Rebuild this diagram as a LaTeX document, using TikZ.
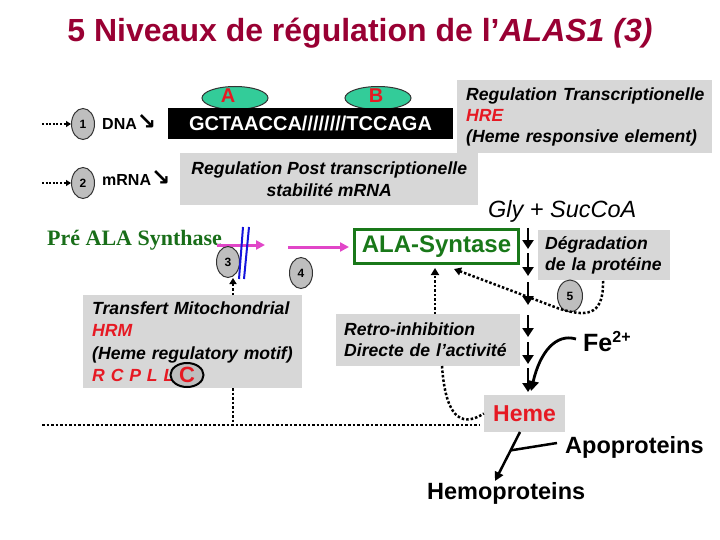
\documentclass[tikz,border=0pt]{standalone}
\usepackage{fontspec}
\setmainfont{Liberation Sans}
\newfontfamily\timesf{Liberation Serif}
\newfontfamily\djv{DejaVu Sans}
\usetikzlibrary{shapes.geometric,arrows.meta,calc}
\definecolor{boxgray}{RGB}{215,215,215}
\definecolor{circgray}{RGB}{190,190,190}
\definecolor{hrered}{RGB}{230,25,35}
\definecolor{titlered}{RGB}{153,0,51}
\definecolor{mint}{RGB}{51,204,153}
\definecolor{alagreen}{RGB}{25,120,25}
\definecolor{pregreen}{RGB}{25,110,25}
\definecolor{magline}{RGB}{225,70,200}
\definecolor{blueline}{RGB}{20,20,220}
\tikzset{
  graybox/.style={fill=boxgray, inner ysep=0pt, align=left, anchor=north west,
    font=\bfseries\itshape\fontsize{17.6}{21}\selectfont},
  circ/.style={ellipse, draw=black!80, line width=1pt, fill=circgray,
    minimum width=23pt, minimum height=31pt, inner sep=0pt,
    font=\bfseries\fontsize{12}{12}\selectfont},
  ovalAB/.style={ellipse, draw=black!80, line width=1pt, fill=mint,
    minimum width=66pt, minimum height=23pt, inner sep=0pt},
  letterAB/.style={text=hrered, font=\bfseries\fontsize{20}{20}\selectfont, inner sep=0pt},
  lbl/.style={font=\bfseries\fontsize{16}{16}\selectfont, inner sep=0pt},
  big/.style={font=\bfseries\fontsize{23.5}{23.5}\selectfont, inner sep=0pt},
  dots/.style={line width=2.5pt, dash pattern=on 2.5pt off 2pt},
  dotsm/.style={line width=2pt, dash pattern=on 2pt off 1.6pt},
  dtip/.style={-{Triangle[length=7pt,width=8pt]}},
  blk/.style={line width=2.8pt, -{Triangle[length=9pt,width=11pt]}},
  mag/.style={line width=3pt, draw=magline, -{Triangle[length=9pt,width=9pt]}},
  blu/.style={line width=2pt, draw=blueline},
}
\begin{document}
\begin{tikzpicture}[x=1pt,y=-1pt]
\useasboundingbox (0,0) rectangle (720,540);

% title
\node[font=\bfseries\fontsize{32}{32}\selectfont, text=titlered] (title) at (360,33)
  {5 Niveaux de régulation de l’\textit{ALAS1 (3)}};

% level 1 and 2
\node[ovalAB] (ea) at (235,98) {};
\node[ovalAB] (eb) at (378,98) {};
\node[letterAB] (la) at (228,96) {A};
\node[letterAB] (lb) at (376,96) {B};
\node[fill=black, text=white, font=\bfseries\fontsize{20}{20}\selectfont,
  minimum width=285pt, minimum height=31pt, inner sep=0pt] (seq) at (310.5,123.5)
  {GCTAACCA////////TCCAGA};

\node[circ] (c1) at (83,124) {1};
\node[circ] (c2) at (83,183) {2};
\node[lbl, anchor=west] (dna) at (102,122) {DNA{\djv\bfseries\fontsize{23}{23}\selectfont ↘}};
\node[lbl, anchor=west] (mrna) at (102,178) {mRNA{\djv\bfseries\fontsize{23}{23}\selectfont ↘}};
\coordinate (s1) at (42,124);
\coordinate (s2) at (42,183);
\draw[dotsm, -{Triangle[length=5pt,width=6pt]}] (s1) -- (c1.west);
\draw[dotsm, -{Triangle[length=5pt,width=6pt]}] (s2) -- (c2.west);

\node[graybox, minimum height=73pt, text width=237pt, inner xsep=9pt] (hre) at (457,80)
  {\mbox{Regulation Transcriptionelle}\\\textcolor{hrered}{HRE}\\\mbox{(Heme responsive element)}};
\node[graybox, align=center, minimum width=298pt, minimum height=52pt, inner xsep=0pt,
  font=\bfseries\itshape\fontsize{17.6}{22}\selectfont] (post) at (180,153)
  {Regulation Post transcriptionelle\\stabilité mRNA};

\node[anchor=base west, inner sep=0pt, font=\itshape\fontsize{23.5}{23.5}\selectfont] (gly) at (488,218)
  {Gly + SucCoA};

% level 3 and 4
\node[anchor=base west, inner sep=0pt, text=pregreen,
  font=\timesf\bfseries\fontsize{22}{22}\selectfont] (pre) at (47,245) {Pré ALA Synthase};

\node[draw=alagreen, line width=3pt, fill=white, minimum width=164pt, minimum height=34pt,
  inner sep=0pt, text=alagreen, font=\bfseries\fontsize{24}{24}\selectfont] (ala) at (436.5,246.5)
  {ALA-Syntase};

\coordinate (m1a) at (217,245);
\coordinate (m1b) at (265,245);
\coordinate (m2a) at (288,247);
\draw[mag] (m1a) -- (m1b);
\draw[mag, shorten >=4pt] (m2a) -- (m2a -| ala.west);

\node[circ] (c3) at (228,262) {3};
\node[circ] (c4) at (301,273) {4};
\coordinate (u1) at (243,227);
\coordinate (u2) at (239,279);
\coordinate (v1) at (249,227);
\coordinate (v2) at (244,279);
\draw[blu] (u1) -- (u2);
\draw[blu] (v1) -- (v2);

\node[graybox, minimum height=93pt, text width=201pt, inner xsep=9pt,
  font=\bfseries\itshape\fontsize{17.6}{22.5}\selectfont] (trans) at (83,295)
  {\mbox{Transfert Mitochondrial}\\\textcolor{hrered}{HRM}\\\mbox{(Heme regulatory motif)}\\\textcolor{hrered}{R C P L L}};
\node[ellipse, draw=black, line width=2pt, fill=circgray, minimum width=33pt, minimum height=24pt,
  inner sep=0pt, text=hrered, font=\bfseries\fontsize{22}{22}\selectfont] (cc) at (187,375) {C};

\coordinate (t3) at (233,295);
\coordinate (t4) at (233,388);
\coordinate (b1) at (233,425);
\coordinate (bl) at (42,425);
\coordinate (br) at (480,425);
\draw[dots, -{Triangle[length=6pt,width=7pt]}] (t3) -- (t3 |- c3.south);
\draw[dots] (t4) -- (b1);
\draw[dots] (bl) -- (br);

% level 5
\node[graybox, minimum height=50pt, text width=118pt, inner xsep=7pt] (degr) at (538,230)
  {\mbox{Dégradation}\\\mbox{de la protéine}};
\node[circ, minimum width=25pt, minimum height=32pt] (c5) at (570,296) {5};

\node[graybox, minimum height=52pt, text width=168pt, inner xsep=8pt] (retro) at (336,314)
  {\mbox{Retro-inhibition}\\\mbox{Directe de l’activité}};

\node[fill=boxgray, minimum width=81pt, minimum height=37pt, inner sep=0pt, text=hrered,
  font=\bfseries\fontsize{23}{23}\selectfont] (heme) at (524.5,413.5) {Heme};

\node[anchor=base west, inner sep=1pt, font=\bfseries\fontsize{25}{25}\selectfont] (fe) at (582,351)
  {Fe\raisebox{9pt}{\fontsize{16}{16}\selectfont 2+}};
\node[big, anchor=base west] (apo) at (565,453) {Apoproteins};
\node[big, anchor=base west] (hemo) at (427,499) {Hemoproteins};

% column of arrows
\foreach \i/\a/\b in {1/228/249, 2/253/276, 3/282/305, 4/315/337, 5/342/364, 6/368/392} {
  \coordinate (ka\i) at (528,\a);
  \coordinate (kb\i) at (528,\b);
  \draw[blk] (ka\i) -- (kb\i);
}

% Fe arrow
\coordinate (fes) at (576,339);
\coordinate (fee) at (531,391);
\draw[line width=2.8pt, -{Triangle[length=10pt,width=11pt]}] (fes) .. controls (556,333) and (540,352) .. (fee);

% degradation dotted
\coordinate (d0) at (603,281);
\coordinate (d1) at (560,309);
\coordinate (d2) at (454,269);
\draw[dots, dtip] (d0) .. controls (604,318) and (584,316) .. (d1) -- (d2);

% retro inhibition
\coordinate (r0) at (435,314);
\draw[dots, dtip, shorten >=3pt] (r0) -- (r0 |- ala.south);
\coordinate (r1) at (442,366);
\draw[dots] (r1) .. controls (446,425) and (466,425) .. (heme.west);

% heme to hemoproteins
\coordinate (h0) at (520,432);
\coordinate (h1) at (495,481);
\coordinate (j) at ($(h0)!0.375!(h1)$);
\coordinate (ap) at (557,443);
\draw[line width=2.5pt, -{Triangle[length=9pt,width=9pt]}] (h0) -- (h1);
\draw[line width=2.5pt] (ap) -- (j);
\end{tikzpicture}
\end{document}
